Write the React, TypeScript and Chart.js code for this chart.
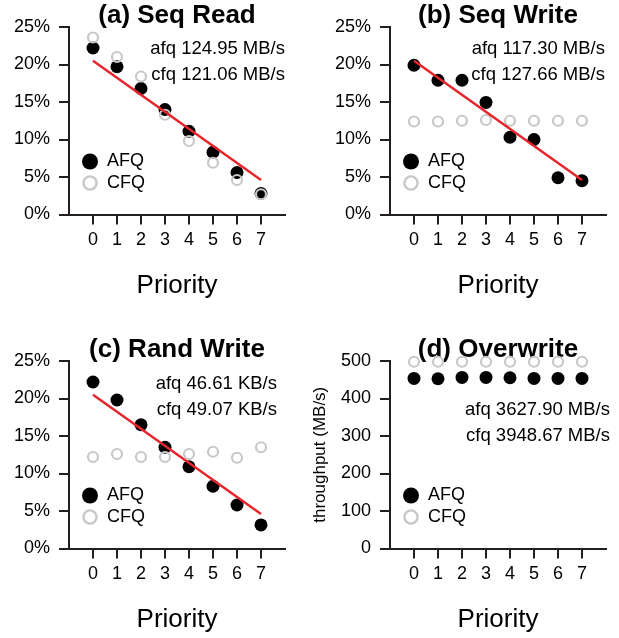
import React, { useEffect, useRef } from 'react';
import { Chart, registerables } from 'chart.js';

Chart.register(...registerables);

// ---------- data ----------
const priorities = [0, 1, 2, 3, 4, 5, 6, 7];

const seqReadAfq = [22.2, 19.7, 16.8, 14.0, 11.1, 8.3, 5.6, 2.8];
const seqReadCfq = [23.6, 21.0, 18.4, 13.3, 9.8, 6.9, 4.6, 2.7];

const seqWriteAfq = [19.9, 17.9, 17.9, 14.95, 10.3, 10.0, 4.9, 4.5];
const seqWriteCfq = [12.4, 12.4, 12.5, 12.6, 12.5, 12.5, 12.5, 12.5];

const randWriteAfq = [22.2, 19.8, 16.5, 13.5, 10.9, 8.3, 5.8, 3.15];
const randWriteCfq = [12.2, 12.6, 12.2, 12.2, 12.6, 12.9, 12.1, 13.5];

const overwriteAfq = [453.6, 452.7, 456.2, 456.2, 455.4, 453.6, 453.6, 453.6];
const overwriteCfq = [498, 498, 498, 498, 498, 498, 498, 498];

// ideal share line (priority 0 -> 7)
const fitX = [0, 7];
const fitY = [20.5, 4.6];

const pctTicks = [0, 5, 10, 15, 20, 25];
const mbTicks = [0, 100, 200, 300, 400, 500];

const panelTitles = ['(a) Seq Read', '(b) Seq Write', '(c) Rand Write', '(d) Overwrite'];
const afqThroughput = ['124.95 MB/s', '117.30 MB/s', '46.61 KB/s', '3627.90 MB/s'];
const cfqThroughput = ['121.06 MB/s', '127.66 MB/s', '49.07 KB/s', '3948.67 MB/s'];
const seriesNames = ['AFQ', 'CFQ'];
const xAxisTitle = 'Priority';
const yAxisTitleD = 'throughput (MB/s)';

// ---------- styles ----------
const FONT = '"Liberation Sans", Arial, Helvetica, sans-serif';
const AXIS = '#231f20';
const CFQ_COLOR = '#c8c8c8';
const RED = '#e6262c';
const TICK_SIZE = 18;
const NOTE_SIZE = 18.5;

type Panel = {
  title: string;
  afq: number[];
  cfq: number[];
  fit: boolean;
  yTicks: number[];
  pct: boolean;
  yTitle?: string;
  afqT: string;
  cfqT: string;
  left: number;
  top: number;
  w: number;
  h: number;
  yW: number;
  padRight: number;
  padBottom: number;
  noteDx: number;
  noteDy: number;
  noteGap: number;
};

const panels: Panel[] = [
  {
    title: panelTitles[0], afq: seqReadAfq, cfq: seqReadCfq, fit: true, yTicks: pctTicks, pct: true,
    afqT: afqThroughput[0], cfqT: cfqThroughput[0],
    left: 0, top: 0, w: 310, h: 334, yW: 69, padRight: 25, padBottom: 32.4, noteDx: 0, noteDy: 22, noteGap: 25.5,
  },
  {
    title: panelTitles[1], afq: seqWriteAfq, cfq: seqWriteCfq, fit: true, yTicks: pctTicks, pct: true,
    afqT: afqThroughput[1], cfqT: cfqThroughput[1],
    left: 310, top: 0, w: 309, h: 334, yW: 80, padRight: 13, padBottom: 32.4, noteDx: -1, noteDy: 22, noteGap: 25.5,
  },
  {
    title: panelTitles[2], afq: randWriteAfq, cfq: randWriteCfq, fit: true, yTicks: pctTicks, pct: true,
    afqT: afqThroughput[2], cfqT: cfqThroughput[2],
    left: 0, top: 334, w: 310, h: 304, yW: 69, padRight: 25, padBottom: 2.4, noteDx: -8, noteDy: 23, noteGap: 25.5,
  },
  {
    title: panelTitles[3], afq: overwriteAfq, cfq: overwriteCfq, fit: false, yTicks: mbTicks, pct: false,
    yTitle: yAxisTitleD,
    afqT: afqThroughput[3], cfqT: cfqThroughput[3],
    left: 310, top: 334, w: 309, h: 304, yW: 80, padRight: 13, padBottom: 2.4, noteDx: 4, noteDy: 48.5, noteGap: 26.5,
  },
];

const textPlugin = {
  id: 'panelText',
  afterDatasetsDraw(chart: any, _args: any, opts: any) {
    const { ctx, chartArea } = chart;
    ctx.save();
    ctx.fillStyle = '#000';
    ctx.textBaseline = 'middle';
    // throughput notes
    ctx.font = `${NOTE_SIZE}px ${FONT}`;
    ctx.textAlign = 'right';
    const nx = chartArea.right + opts.noteDx;
    ctx.fillText('afq ' + opts.afqT, nx, chartArea.top + opts.noteDy);
    ctx.fillText('cfq ' + opts.cfqT, nx, chartArea.top + opts.noteDy + opts.noteGap);
    // legend
    const lx = chartArea.left + 21;
    const y1 = chartArea.top + 134.5;
    const y2 = chartArea.top + 156;
    ctx.beginPath();
    ctx.arc(lx, y1, 8, 0, Math.PI * 2);
    ctx.fillStyle = '#000';
    ctx.fill();
    ctx.beginPath();
    ctx.arc(lx, y2, 6.6, 0, Math.PI * 2);
    ctx.lineWidth = 2.4;
    ctx.strokeStyle = CFQ_COLOR;
    ctx.stroke();
    ctx.font = `18px ${FONT}`;
    ctx.textAlign = 'left';
    ctx.fillStyle = '#000';
    ctx.fillText(seriesNames[0], chartArea.left + 38, y1);
    ctx.fillText(seriesNames[1], chartArea.left + 38, y2);
    ctx.restore();
  },
};

function buildConfig(p: Panel): any {
  const datasets: any[] = [];
  if (p.fit) {
    datasets.push({
      label: 'fit',
      data: fitX.map((x, i) => ({ x, y: fitY[i] })),
      showLine: true,
      borderColor: RED,
      borderWidth: 2.5,
      pointRadius: 0,
      fill: false,
      clip: false,
    });
  }
  datasets.push({
    label: seriesNames[1],
    data: priorities.map((x, i) => ({ x, y: p.cfq[i] })),
    pointRadius: 5,
    pointBorderWidth: 2.2,
    borderColor: CFQ_COLOR,
    backgroundColor: 'rgba(0,0,0,0)',
    pointBackgroundColor: 'rgba(0,0,0,0)',
    pointBorderColor: CFQ_COLOR,
    clip: false,
  });
  datasets.push({
    label: seriesNames[0],
    data: priorities.map((x, i) => ({ x, y: p.afq[i] })),
    pointRadius: 6.5,
    pointBorderWidth: 0,
    borderColor: '#000',
    backgroundColor: '#000',
    pointBackgroundColor: '#000',
    clip: false,
  });

  const yt = p.yTicks;
  return {
    type: 'scatter',
    data: { datasets },
    options: {
      animation: false,
      responsive: false,
      maintainAspectRatio: false,
      events: [],
      layout: { padding: { top: 0, left: 0, right: p.padRight, bottom: p.padBottom } },
      plugins: {
        legend: { display: false },
        tooltip: { enabled: false },
        title: {
          display: true,
          text: p.title,
          fullSize: false,
          color: '#000',
          font: { family: FONT, size: 26, weight: 'bold', lineHeight: 23 / 26 },
          padding: { top: 4, bottom: 0 },
        },
        panelText: { afqT: p.afqT, cfqT: p.cfqT, noteDx: p.noteDx, noteDy: p.noteDy, noteGap: p.noteGap },
      },
      scales: {
        x: {
          type: 'linear',
          min: -1,
          max: 8,
          afterBuildTicks: (s: any) => {
            s.ticks = priorities.map((v) => ({ value: v }));
          },
          afterFit: (s: any) => {
            s.height = 87.1;
          },
          grid: { drawOnChartArea: false, drawTicks: true, tickLength: 10, color: AXIS, lineWidth: 2 },
          border: { display: true, color: AXIS, width: 2 },
          ticks: {
            color: '#000',
            font: { family: FONT, size: TICK_SIZE },
            padding: 5,
            autoSkip: false,
            maxRotation: 0,
            callback: (v: any) => String(v),
          },
          title: {
            display: true,
            text: xAxisTitle,
            color: '#000',
            font: { family: FONT, size: 26, lineHeight: 1.2 },
            padding: 0,
          },
        },
        y: {
          type: 'linear',
          min: yt[0],
          max: yt[yt.length - 1],
          afterBuildTicks: (s: any) => {
            s.ticks = yt.map((v) => ({ value: v }));
          },
          afterFit: (s: any) => {
            s.width = p.yW;
          },
          grid: { drawOnChartArea: false, drawTicks: true, tickLength: 10, color: AXIS, lineWidth: 2 },
          border: { display: true, color: AXIS, width: 2 },
          ticks: {
            color: '#000',
            font: { family: FONT, size: TICK_SIZE },
            padding: 9,
            autoSkip: false,
            callback: (v: any) => (p.pct ? `${v}%` : String(v)),
          },
          title: {
            display: !!p.yTitle,
            text: p.yTitle || '',
            color: '#000',
            font: { family: FONT, size: 17, lineHeight: 1.2 },
            padding: 0,
          },
        },
      },
    },
    plugins: [textPlugin],
  };
}

export default function App() {
  const refs = useRef<(HTMLCanvasElement | null)[]>([]);
  useEffect(() => {
    const charts = panels.map((p, i) => new Chart(refs.current[i] as HTMLCanvasElement, buildConfig(p)));
    return () => charts.forEach((c) => c.destroy());
  }, []);
  return (
    <div
      style={{
        position: 'fixed',
        left: 0,
        top: 0,
        width: 619,
        height: 638,
        background: '#fff',
        overflow: 'hidden',
      }}
    >
      {panels.map((p, i) => (
        <canvas
          key={i}
          ref={(el) => {
            refs.current[i] = el;
          }}
          width={p.w}
          height={p.h}
          style={{ position: 'absolute', left: p.left, top: p.top, width: p.w, height: p.h }}
        />
      ))}
    </div>
  );
}
